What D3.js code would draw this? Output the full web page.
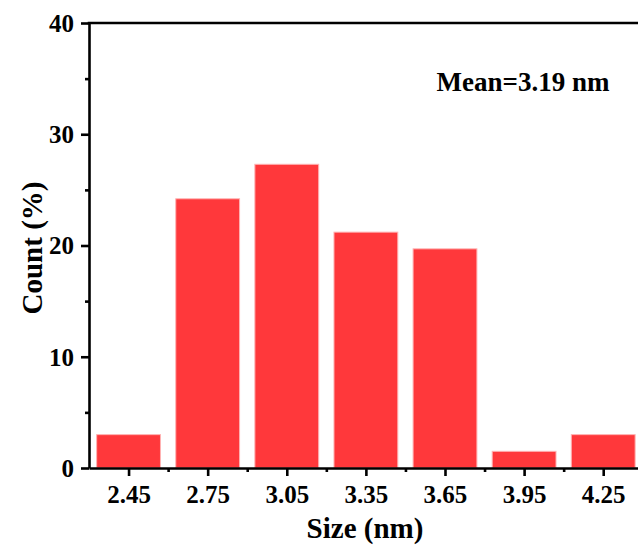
<!DOCTYPE html>
<html><head><meta charset="utf-8">
<script src="https://cdn.jsdelivr.net/npm/d3@7"></script>
<style>
body{margin:0;background:#fff;}
svg{display:block;}
text{font-family:"Liberation Serif","Times New Roman",serif;font-weight:bold;fill:#000;}
</style></head>
<body><svg id="c" width="638" height="548"></svg>
<script>
const sizes = [2.45, 2.75, 3.05, 3.35, 3.65, 3.95, 4.25];
const counts = [3.0, 24.2, 27.3, 21.2, 19.7, 1.5, 3.0];
const xTicks = [2.45, 2.75, 3.05, 3.35, 3.65, 3.95, 4.25];
const xMinor = [2.6, 2.9, 3.2, 3.5, 3.8, 4.1];
const yTicks = [0, 10, 20, 30, 40];
const yMinor = [5, 15, 25, 35];
const binWidth = 0.242;
const meanLabel = "Mean=3.19 nm";

const svg = d3.select("#c");
const mLeft = 89, mTop = 23, mBottom = 468;
const x = d3.scaleLinear().domain([2.3, 4.4]).range([mLeft, mLeft + 2.1 * 263.7]);
const y = d3.scaleLinear().domain([0, 40]).range([mBottom, mTop]);

svg.append("g").selectAll("rect").data(sizes).join("rect")
  .attr("x", (d) => x(d - binWidth / 2))
  .attr("width", x(binWidth) - x(0))
  .attr("y", (d, i) => y(counts[i]))
  .attr("height", (d, i) => y(0) - y(counts[i]))
  .attr("fill", "#FF383B")
  .attr("stroke", "#FFB3B3")
  .attr("stroke-width", 1);

const sw = 2.6;
// X axis
const gx = svg.append("g").attr("transform", `translate(0,${mBottom})`);
gx.call(d3.axisBottom(x).tickValues(xTicks).tickFormat(d3.format(".2f")).tickSize(8).tickSizeOuter(0));
gx.append("g").call(d3.axisBottom(x).tickValues(xMinor).tickFormat("").tickSize(4).tickSizeOuter(0))
  .select(".domain").remove();
gx.selectAll(".tick line").attr("stroke-width", sw);
gx.select(".domain").attr("stroke-width", sw);
gx.selectAll(".tick text").attr("font-size", 25).attr("dy", 0).attr("y", 35);

// Y axis
const gy = svg.append("g").attr("transform", `translate(${mLeft},0)`);
gy.call(d3.axisLeft(y).tickValues(yTicks).tickSize(8).tickSizeOuter(0));
gy.append("g").call(d3.axisLeft(y).tickValues(yMinor).tickFormat("").tickSize(4).tickSizeOuter(0))
  .select(".domain").remove();
gy.selectAll(".tick line").attr("stroke-width", sw);
gy.select(".domain").attr("stroke-width", sw);
gy.selectAll(".tick text").attr("font-size", 25).attr("x", -15).attr("dy", "0.33em");

// top frame
svg.append("line").attr("x1", mLeft - sw/2).attr("x2", x(4.4)).attr("y1", mTop).attr("y2", mTop)
  .attr("stroke", "#000").attr("stroke-width", sw);

svg.selectAll("text").style("font-family", '"Liberation Serif","Times New Roman",serif').style("font-weight", "bold");

svg.append("text").attr("x", 365).attr("y", 538).attr("text-anchor", "middle")
  .attr("font-size", 29).text("Size (nm)");
svg.append("text").attr("transform", "translate(42,248) rotate(-90)").attr("text-anchor", "middle")
  .attr("font-size", 29).text("Count (%)");
svg.append("text").attr("x", 523).attr("y", 91).attr("text-anchor", "middle")
  .attr("font-size", 27).text(meanLabel);
</script></body></html>
